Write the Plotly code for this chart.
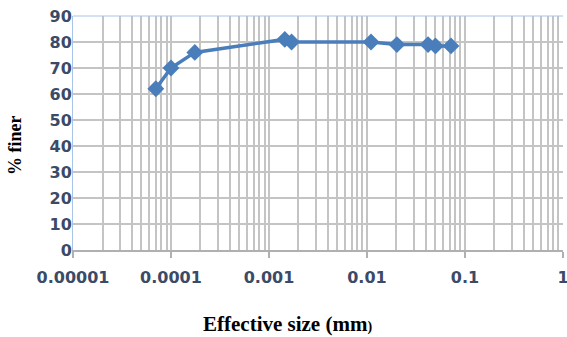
import plotly.graph_objects as go

size_mm = [0.00007, 0.0001, 0.000175, 0.00145, 0.0017, 0.011, 0.0202, 0.042, 0.05, 0.072]
pct_finer = [62, 70, 76, 81, 80, 80, 79, 79, 78.5, 78.5]

x_tickvals = [0.00001, 0.0001, 0.001, 0.01, 0.1, 1]
x_ticktext = ["0.00001", "0.0001", "0.001", "0.01", "0.1", "1"]
y_tickvals = [0, 10, 20, 30, 40, 50, 60, 70, 80, 90]

fig = go.Figure()
fig.add_trace(go.Scatter(
    x=size_mm, y=pct_finer, mode="lines+markers",
    line=dict(color="#4a7ebb", width=3.5),
    marker=dict(symbol="diamond", size=13, color="#4a7ebb"),
    showlegend=False,
))

tick_font = dict(family="DejaVu Sans", size=16, color="#3b4a66", weight="bold")

fig.update_layout(
    width=567, height=337,
    margin=dict(l=73, r=4, t=16, b=87, autoexpand=False),
    paper_bgcolor="white", plot_bgcolor="white",
    xaxis=dict(
        type="log", range=[-5, 0.0005],
        tickvals=x_tickvals, ticktext=x_ticktext,
        tickfont=tick_font, ticklabeloverflow="allow", ticklabelstandoff=6,
        showgrid=True, gridcolor="#c4c4c4", gridwidth=2,
        minor=dict(showgrid=True, gridcolor="#c4c4c4", gridwidth=2, dtick="D1"),
        showline=True, linecolor="#b0b0b0", linewidth=2,
        ticks="outside", ticklen=6, tickcolor="#b0b0b0", tickwidth=2,
        zeroline=False, automargin=False,
    ),
    yaxis=dict(
        range=[0, 90], tickvals=y_tickvals,
        tickfont=tick_font, ticklabelstandoff=-3, ticklabeloverflow="allow",
        showgrid=True, gridcolor="#c4c4c4", gridwidth=2,
        showline=True, linecolor="#a9c4e8", linewidth=1,
        ticks="", zeroline=False, automargin=False,
    ),
    shapes=[dict(type="line", xref="paper", yref="paper", x0=0, x1=1, y0=1, y1=1,
                 line=dict(color="#a9c4e8", width=1))],
    annotations=[
        dict(text="Effective size (mm<span style='font-size:14px'>)</span>",
             xref="paper", yref="paper", x=(287 - 73) / 490, y=(250 - 324) / 234,
             xanchor="center", yanchor="middle", showarrow=False,
             font=dict(family="Liberation Serif", size=21, color="black", weight="bold")),
        dict(text="% finer", textangle=-90,
             xref="paper", yref="paper", x=(15 - 73) / 490, y=(250 - 146) / 234,
             xanchor="center", yanchor="middle", showarrow=False,
             font=dict(family="Liberation Serif", size=18, color="black", weight="bold")),
    ],
)

fig.write_html(
    "out.html",
    config={"displayModeBar": False},
    post_script="document.body.style.margin='0';document.documentElement.style.overflow='hidden';document.body.style.overflow='hidden';",
)
